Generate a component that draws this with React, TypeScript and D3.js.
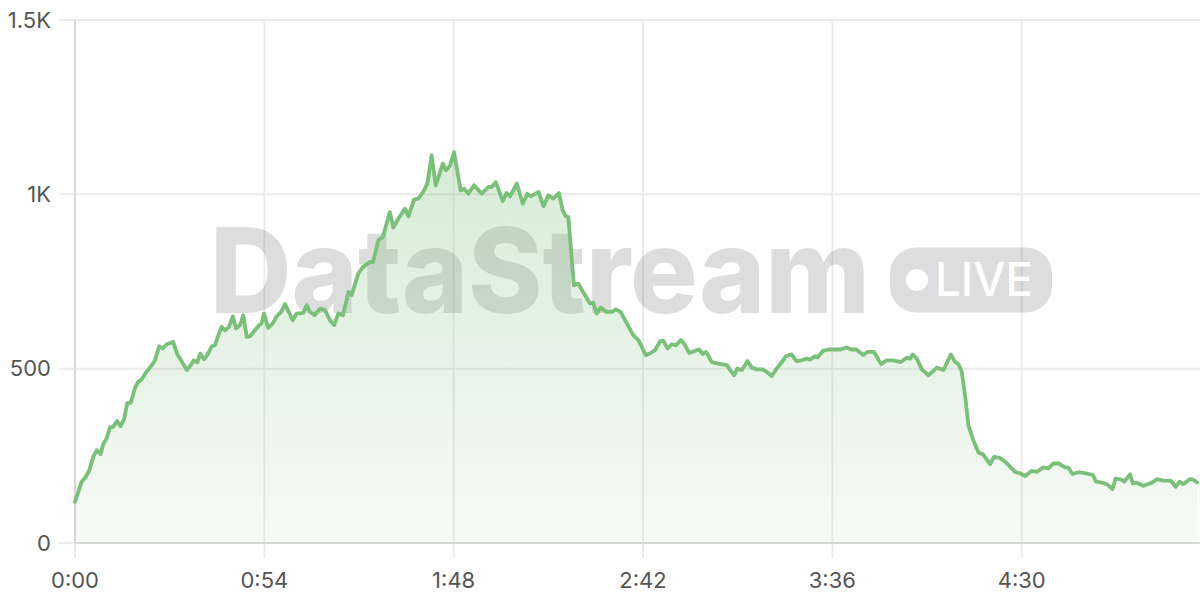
import React from "react";
import * as d3 from "d3";

// elapsed seconds of each sample
const seconds: number[] = [
  0, 1.9, 3.1, 4.1, 5.2, 6.2, 7.3, 8.1, 9, 10, 10.9, 12, 13, 14, 14.9, 15.9, 17.1, 18, 19, 20.4,
  21.9, 22.8, 24, 25, 26.1, 28, 29.2, 30.4, 31.9, 33, 33.9, 34.9, 35.7, 36.8, 37.7, 39, 39.9, 40.9,
  41.8, 42.8, 43.9, 45, 45.9, 47.1, 48, 49, 49.9, 51.3, 52.6, 53.2, 53.9, 55.1, 56.4, 57.5, 58.8,
  59.9, 62.1, 63.2, 65.1, 66.1, 67, 68.3, 69.9, 71.3, 72.7,
  73.9, 75.1, 76.4, 78, 78.9, 80.8, 82.2, 84.1, 85, 86.5, 87.8, 89.8, 90.8, 92.2, 94.1, 95.1, 96.7,
  97.9, 99.3, 100.5, 101.7, 102.9, 104.9, 105.8, 107, 108.1, 110, 111, 112.2, 113.8, 116, 117.9,
  118.8, 120, 122, 123.1, 124.1, 126, 127.7, 129, 130, 132.2, 133.6, 135, 136.5, 138, 139.1, 140,
  140.7, 141.7, 142.3, 143.6,
  145.4, 146.9, 147.8, 148.8, 149.9, 151.6, 153.1, 154.3, 155.6, 157.4, 159.2, 160.7, 162.8, 164.2,
  165.4, 166.9, 167.8, 169, 170.2, 171.4, 172.8, 173.7, 175.2, 176.8, 178, 179, 180, 181.6, 183,
  184.4, 185.9, 186.6, 188, 188.9, 190.2, 191.8, 193, 194.4, 196.1, 197.3, 198.7, 200.1, 201.6,
  202.8, 204.4, 205.7, 207.3, 208.7, 209.6, 211.1, 211.8, 213.3, 214.9, 216.3, 218.3, 220.1, 221.5,
  222.8, 224.8, 226, 227.9, 229.9, 231.5, 233.4, 235.5, 237.2, 238.2, 238.9, 240.1, 241.5, 243.4,
  245.8, 247.7, 249.8, 251, 252,
  252.9, 253.9, 254.8, 256.2, 257.7, 258.9, 261, 262.1, 263.8, 265.3, 266.7, 268.1, 269.5, 271,
  272.9, 274.3, 276.2, 277.6, 279, 280.5, 282.4, 283.3, 284.5, 286.2, 287.6, 289, 290.3, 291.2,
  292.8, 294.3, 295.9, 296.8, 298.6, 299.3, 300.9, 301.7, 302.8, 304.7, 307.1, 308.7, 310.2, 312.3,
  312.8, 313.9, 315, 316.1, 317.9, 319, 320,
];

// live viewer count at each sample
const viewers: number[] = [
  118, 176, 190, 209, 247, 266, 255, 284, 300, 332, 333, 350, 335, 355, 401, 402, 444, 462, 469, 491,
  510, 524, 564, 558, 569, 577, 541, 521, 496, 510, 524, 518, 543, 527, 539, 564, 567, 596,
  620, 610, 620, 650, 615, 625, 653, 591, 593, 610, 625, 630, 658, 617, 630, 650, 663,
  685, 639, 658, 660, 682, 663, 653, 672, 668, 639,
  625, 658, 653, 720, 711, 773, 792, 806, 806, 868, 878, 949, 905, 930, 959, 937, 985,
  988, 1007, 1031, 1112, 1026, 1088, 1069, 1083, 1121, 1011, 1016, 1002, 1026, 1002, 1021,
  1021, 1035, 981, 1004, 994, 1031, 973, 1002, 994, 1007, 966, 997, 988, 1004, 954, 937,
  935, 811, 739, 744,
  711, 687, 689, 658, 675, 663, 663, 670, 663, 630, 596, 582, 539, 545,
  553, 579, 580, 558, 570, 567, 582, 572, 545, 551, 555, 542, 548, 519, 515,
  513, 510, 500, 481, 500, 496, 522, 503, 498, 498, 491, 479, 500, 519,
  536, 541, 522, 524, 529, 526, 536, 532, 551, 555, 555, 555, 561, 555,
  555, 539, 548, 548, 513, 524, 524, 519, 531, 529, 541, 529, 498, 481,
  503, 496, 541, 519, 513,
  491, 419, 338, 295, 259, 255, 226, 247, 244, 233, 219, 204, 200, 192,
  207, 204, 217, 214, 228, 228, 217, 216, 198, 203, 201, 198, 195, 176,
  173, 169, 155, 185, 181, 176, 197, 171, 173, 164, 173, 183, 179, 179,
  176, 161, 176, 169, 183, 181, 174,
];

const xTicks: number[] = [0, 54, 108, 162, 216, 270];
const yTicks: number[] = [0, 500, 1000, 1500];
const yTickLabels: string[] = ["0", "500", "1K", "1.5K"];
const watermarkTitle = "DataStream";
const watermarkBadge = "LIVE";

const W = 1200;
const H = 600;
const FONT = "Inter, 'Noto Sans', sans-serif";

const fmtTime = (s: number) => {
  const m = Math.floor(s / 60);
  const r = Math.round(s % 60);
  return `${m}:${r < 10 ? "0" + r : r}`;
};

export default function App() {
  const x = d3.scaleLinear().domain([0, 320]).range([75, 1197]);
  const y = d3.scaleLinear().domain([0, 1500]).range([543, 20]);
  const data = seconds.map((s, i) => ({ s, v: viewers[i] }));

  const line = d3
    .line<{ s: number; v: number }>()
    .x((d) => x(d.s))
    .y((d) => y(d.v))
    .curve(d3.curveLinear);
  const area = d3
    .area<{ s: number; v: number }>()
    .x((d) => x(d.s))
    .y0(y(0))
    .y1((d) => y(d.v))
    .curve(d3.curveLinear);

  const maxV = d3.max(viewers) as number;

  return (
    <svg
      width={W}
      height={H}
      style={{ position: "absolute", left: 0, top: 0, background: "#fff" }}
    >
      <defs>
        <linearGradient
          id="areaGrad"
          gradientUnits="userSpaceOnUse"
          x1={0}
          x2={0}
          y1={y(maxV)}
          y2={y(0)}
        >
          <stop offset="0%" stopColor="rgb(120,190,120)" stopOpacity={0.3} />
          <stop offset="100%" stopColor="rgb(120,190,120)" stopOpacity={0.07} />
        </linearGradient>
      </defs>

      {/* grid */}
      {yTicks.map((t) => (
        <line
          key={"hy" + t}
          x1={59}
          x2={W}
          y1={y(t)}
          y2={y(t)}
          stroke="#ebebeb"
          strokeWidth={2}
        />
      ))}
      {xTicks.map((t) => (
        <line
          key={"vx" + t}
          x1={x(t)}
          x2={x(t)}
          y1={20}
          y2={558}
          stroke="#ebebeb"
          strokeWidth={2}
        />
      ))}
      <line x1={x(0)} x2={x(0)} y1={20} y2={543} stroke="#d8d8d8" strokeWidth={2} />
      <line x1={x(0)} x2={W} y1={y(0)} y2={y(0)} stroke="#d8d8d8" strokeWidth={2} />

      {/* watermark */}
      <g fill="rgba(0,0,0,0.135)">
        <text
          x={210}
          y={313}
          fontFamily={FONT}
          fontWeight={800}
          fontSize={118}
          textLength={660}
          lengthAdjust="spacingAndGlyphs"
        >
          {watermarkTitle}
        </text>
        <rect x={890} y={247.5} width={162} height={65} rx={26} ry={26} />
      </g>
      <circle cx={917} cy={280} r={11} fill="#fff" />
      <text
        x={935}
        y={296}
        fill="#fff"
        fontFamily={FONT}
        fontWeight={500}
        fontSize={46}
        textLength={98}
        lengthAdjust="spacingAndGlyphs"
      >
        {watermarkBadge}
      </text>

      {/* series */}
      <path d={area(data) || ""} fill="url(#areaGrad)" />
      <path
        d={line(data) || ""}
        fill="none"
        stroke="#7abf7a"
        strokeWidth={3.8}
        strokeLinejoin="round"
        strokeLinecap="round"
      />

      {/* axis labels */}
      {yTicks.map((t, i) => (
        <text
          key={"yl" + t}
          x={51}
          y={y(t)}
          dy="0.35em"
          textAnchor="end"
          fontFamily={FONT}
          fontSize={22}
          fill="#555"
        >
          {yTickLabels[i]}
        </text>
      ))}
      {xTicks.map((t) => (
        <text
          key={"xl" + t}
          x={x(t)}
          y={588}
          textAnchor="middle"
          fontFamily={FONT}
          fontSize={22}
          fill="#555"
        >
          {fmtTime(t)}
        </text>
      ))}
    </svg>
  );
}
